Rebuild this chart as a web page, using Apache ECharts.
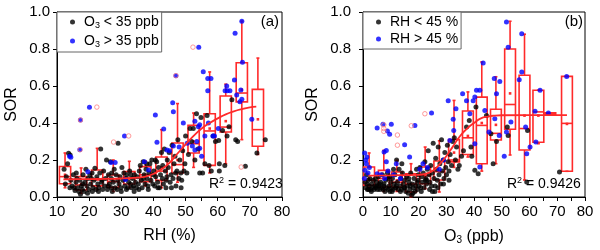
<!DOCTYPE html>
<html><head><meta charset="utf-8">
<script src="https://cdn.jsdelivr.net/npm/echarts@6/dist/echarts.min.js"></script>
<style>html,body{margin:0;padding:0;background:#fff}#c{width:600px;height:250px}</style>
</head><body><div id="c"></div>
<script>
// ---------- Panel (a): SOR vs RH ----------
const blackA = [[12.2,0.15],[12.6,0.07],[12.9,0.11],[13.3,0.18],[13.6,0.236],[14.1,0.227],[14.3,0.09],[14.7,0.06],[15.1,0.12],[15.3,0.05],[15.6,0.035],[15.9,0.08],[16.2,0.1],[16.5,0.05],[16.8,0.03],[17.1,0.09],[17.3,0.015],[17.6,0.06],[17.9,0.04],[18.1,0.12],[18.4,0.03],[18.7,0.08],[19.0,0.15],[19.3,0.06],[19.6,0.1],[19.9,0.04],[20.2,0.12],[20.5,0.07],[20.9,0.13],[21.2,0.05],[21.5,0.09],[21.8,0.155],[22.1,0.04],[22.4,0.11],[22.7,0.07],[23.0,0.05],[23.3,0.13],[23.6,0.26],[23.9,0.08],[24.2,0.04],[24.5,0.14],[24.8,0.06],[25.1,0.1],[25.4,0.2],[25.7,0.04],[26.0,0.12],[26.3,0.07],[26.6,0.19],[26.9,0.1],[27.2,0.03],[27.5,0.08],[27.8,0.15],[28.1,0.05],[28.4,0.12],[28.7,0.04],[29.0,0.29],[29.3,0.07],[29.6,0.11],[29.9,0.05],[30.2,0.16],[30.5,0.09],[30.8,0.13],[31.1,0.06],[31.4,0.1],[31.7,0.12],[32.0,0.05],[32.3,0.08],[32.6,0.14],[32.9,0.07],[33.2,0.05],[33.5,0.1],[33.8,0.06],[34.1,0.12],[34.4,0.08],[34.7,0.05],[35.0,0.11],[35.3,0.07],[35.6,0.14],[35.9,0.17],[36.2,0.09],[36.5,0.05],[36.8,0.19],[37.1,0.12],[37.4,0.07],[37.7,0.15],[38.0,0.1],[38.3,0.06],[38.6,0.13],[38.9,0.18],[39.2,0.09],[39.5,0.2],[39.8,0.07],[40.1,0.14],[40.4,0.06],[40.7,0.11],[41.0,0.19],[41.3,0.08],[41.6,0.16],[41.9,0.05],[42.2,0.12],[42.5,0.24],[42.8,0.1],[43.1,0.07],[43.4,0.26],[43.7,0.14],[44.0,0.09],[44.3,0.2],[44.6,0.16],[44.9,0.24],[45.2,0.08],[45.5,0.12],[45.8,0.28],[46.1,0.1],[46.4,0.18],[46.7,0.22],[47.0,0.06],[47.3,0.14],[47.6,0.31],[47.9,0.1],[48.2,0.2],[48.5,0.13],[48.8,0.09],[49.1,0.25],[49.5,0.14],[50.0,0.33],[50.4,0.13],[50.9,0.23],[51.4,0.37],[51.9,0.3],[52.4,0.37],[52.9,0.2],[53.4,0.45],[53.9,0.26],[54.4,0.13],[54.8,0.43],[55.3,0.13],[56.0,0.18],[56.7,0.44],[57.3,0.17],[58.0,0.14],[58.6,0.33],[59.3,0.3],[60.3,0.306],[60.5,0.18],[60.5,0.14],[61.5,0.36],[62.2,0.17],[62.9,0.33],[63.5,0.38],[64.4,0.526],[65.6,0.31],[66.2,0.3],[68.6,0.166],[72.2,0.238],[74.8,0.31],
[14.0,0.05],[16.0,0.13],[18.0,0.07],[19.5,0.02],[20.7,0.1],[22.9,0.03],[24.0,0.09],[25.9,0.06],[27.0,0.13],[28.9,0.09],[30.0,0.03],[31.6,0.04],[33.0,0.12],[34.0,0.03],[35.5,0.04],[36.9,0.1],[38.4,0.04],[39.9,0.12],[41.4,0.05],[42.9,0.17],[44.2,0.11],[45.6,0.05],[46.9,0.13],[48.6,0.05],[49.8,0.18],[37.9,0.18],[40.6,0.2],[43.9,0.05],[26.9,0.05],[21.0,0.03]];
const blueA = [[13.9,0.22],[14.3,0.215],[17.1,0.256],[17.3,0.416],[20.1,0.485],[19.6,0.137],[26.8,0.187],[28.1,0.187],[31.0,0.33],[31.3,0.095],[37.2,0.19],[38.5,0.146],[40.6,0.443],[41.1,0.296],[43.2,0.367],[44.2,0.254],[45.0,0.25],[46.0,0.51],[46.2,0.461],[46.2,0.276],[47.0,0.656],[49.3,0.4],[50.5,0.29],[52.1,0.276],[52.9,0.41],[52.9,0.254],[53.5,0.3],[54.0,0.38],[54.1,0.81],[54.4,0.39],[54.4,0.263],[55.5,0.677],[56.9,0.64],[56.9,0.575],[57.1,0.4],[57.9,0.64],[58.5,0.33],[62.3,0.575],[62.8,0.6],[63.0,0.575],[63.8,0.575],[65.2,0.632],[65.4,0.885],[65.9,0.551],[66.9,0.515],[67.2,0.578],[67.5,0.528],[67.5,0.95],[67.7,0.728],[70.6,0.42],[60.2,0.37],[59.0,0.33],[48.0,0.27],[55.0,0.22],[56.0,0.33]];
const outA = [[17.2,0.256],[17.3,0.416],[22.4,0.486],[27.6,0.297],[32.3,0.33],[47.0,0.656],[52.3,0.81],[67.3,0.162]];
const boxA_x    = [12.5,17.5,22.5,27.5,32.5,37.5,42.5,47.5,52.5,57.5,62.5,67.5,72.5];
const boxA_low  = [0.05,0.02,0.04,0.03,0.05,0.06,0.05,0.08,0.16,0.13,0.18,0.31,0.23];
const boxA_q1   = [0.072,0.038,0.06,0.052,0.07,0.083,0.09,0.13,0.238,0.171,0.351,0.514,0.274];
const boxA_med  = [0.11,0.065,0.092,0.083,0.1,0.12,0.14,0.175,0.288,0.357,0.378,0.562,0.364];
const boxA_q3   = [0.165,0.11,0.146,0.119,0.137,0.164,0.216,0.292,0.387,0.45,0.546,0.726,0.582];
const boxA_high = [0.238,0.157,0.263,0.2,0.193,0.195,0.364,0.505,0.454,0.676,0.61,0.951,0.751];
const boxA_mean = [0.12,0.07,0.1,0.09,0.1,0.12,0.16,0.2,0.3,0.37,0.41,0.58,0.42];
const fitA_x = [12,15,20,25,30,35,37.5,40,42.5,45,47.5,50,52.5,55,57.5,60,62.5,65,67.5,70,72];
const fitA_y = [0.095,0.096,0.097,0.098,0.1,0.105,0.11,0.125,0.15,0.185,0.235,0.285,0.33,0.37,0.4,0.425,0.447,0.463,0.475,0.484,0.488];

// ---------- Panel (b): SOR vs O3 ----------
const blackB = [[0.8,0.08],[1.0,0.05],[1.3,0.12],[1.6,0.04],[1.9,0.09],[2.2,0.06],[2.5,0.1],[2.8,0.04],[3.1,0.07],[3.4,0.05],[3.7,0.09],[4.0,0.04],[4.3,0.06],[4.6,0.05],[4.9,0.08],[5.2,0.04],[5.5,0.11],[5.8,0.06],[6.1,0.04],[6.4,0.08],[6.7,0.05],[7.0,0.12],[7.3,0.04],[7.6,0.07],[7.9,0.03],[8.2,0.09],[8.5,0.05],[8.8,0.13],[9.1,0.04],[9.4,0.06],[9.7,0.03],[10.0,0.08],[10.3,0.05],[10.6,0.1],[10.9,0.04],[11.2,0.07],[11.5,0.12],[11.8,0.05],[12.1,0.2],[12.4,0.08],[12.7,0.04],[13.0,0.15],[13.3,0.06],[13.6,0.1],[13.9,0.04],[14.2,0.13],[14.5,0.07],[14.8,0.05],[15.1,0.09],[15.4,0.03],[15.7,0.11],[16.0,0.06],[16.3,0.02],[16.6,0.08],[16.9,0.04],[17.2,0.13],[17.5,0.01],[17.8,0.07],[18.1,0.05],[18.4,0.1],[18.7,0.03],[19.0,0.06],[19.3,0.15],[19.6,0.04],[19.9,0.09],[20.2,0.06],[20.5,0.16],[20.8,0.05],[21.1,0.11],[21.4,0.08],[21.7,0.13],[22.0,0.05],[22.3,0.19],[22.6,0.1],[22.9,0.07],[23.2,0.15],[23.5,0.25],[23.8,0.12],[24.1,0.08],[24.4,0.17],[24.7,0.06],[25.0,0.13],[25.3,0.29],[25.6,0.1],[25.9,0.03],[26.2,0.21],[26.5,0.15],[26.8,0.09],[27.1,0.27],[27.4,0.12],[27.7,0.18],[28.0,0.07],[28.3,0.31],[28.6,0.14],[28.9,0.2],[29.2,0.1],[29.5,0.24],[29.8,0.16],[30.1,0.12],[30.4,0.28],[30.7,0.19],[31.0,0.14],[31.4,0.23],[31.9,0.17],[32.3,0.3],[32.9,0.32],[33.3,0.2],[33.7,0.27],[34.2,0.15],[34.7,0.17],[35.5,0.22],[36.2,0.25],[37.3,0.378],[38.3,0.414],[38.9,0.27],[39.2,0.22],[40.3,0.144],[40.7,0.486],[41.5,0.126],[44.5,0.44],[46.1,0.342],[46.9,0.18],[48.1,0.3],[52.0,0.378],[52.3,0.333],[59.0,0.081],[59.3,0.36],[70.8,0.135],
[1.5,0.07],[3.0,0.03],[4.5,0.1],[6.0,0.07],[7.5,0.06],[9.0,0.1],[10.5,0.03],[12.0,0.06],[13.5,0.03],[15.0,0.05],[16.5,0.1],[18.0,0.02],[19.5,0.08],[21.0,0.03],[22.5,0.09],[24.0,0.04],[26.0,0.06],[27.0,0.05],[29.0,0.07],[31.0,0.09],[14.0,0.18],[11.0,0.15],[9.5,0.11],[5.0,0.06],[2.0,0.04],[17.0,0.06],[20.0,0.12],[23.0,0.09],[25.0,0.03]];
const blueB = [[0.6,0.238],[1.4,0.216],[1.2,0.18],[0.7,0.144],[1.8,0.13],[2.3,0.16],[0.5,0.1],[1.0,0.2],[5.1,0.373],[7.2,0.393],[8.8,0.357],[9.6,0.339],[10.2,0.393],[7.6,0.243],[8.4,0.252],[8.4,0.19],[5.1,0.126],[6.5,0.12],[7.8,0.1],[9.0,0.14],[11.0,0.12],[12.0,0.18],[13.5,0.1],[15.0,0.283],[16.8,0.216],[18.7,0.387],[20.5,0.15],[21.6,0.18],[23.2,0.16],[24.7,0.454],[27.5,0.15],[29.0,0.2],[30.7,0.52],[31.3,0.306],[32.5,0.42],[32.7,0.36],[33.5,0.477],[35.9,0.558],[37.3,0.52],[38.5,0.45],[39.7,0.52],[40.3,0.54],[40.3,0.288],[40.9,0.577],[42.1,0.577],[42.1,0.162],[43.3,0.724],[43.9,0.468],[45.4,0.351],[47.3,0.64],[47.5,0.423],[48.1,0.558],[49.1,0.333],[49.3,0.625],[50.9,0.22],[51.7,0.946],[51.7,0.351],[52.3,0.81],[53.3,0.405],[56.3,0.634],[57.2,0.676],[57.2,0.883],[58.6,0.378],[59.0,0.234],[60.2,0.27],[62.0,0.463],[62.3,0.297],[63.8,0.577],[66.8,0.454],[73.4,0.652]];
const outB = [[7.5,0.39],[7.5,0.37],[7.5,0.355],[12.4,0.335],[12.4,0.28],[17.4,0.385],[22.3,0.45]];
const boxB_x    = [2.2,7.5,12.2,17.3,22.4,27.5,32.8,37.8,42.8,47.9,53.0,58.2,63.2,67.5,73.5];
const boxB_low  = [0.036,0.03,0.03,0.0,0.045,0.027,0.16,0.216,0.14,0.18,0.227,0.092,0.288,0.445,0.139];
const boxB_q1   = [0.063,0.054,0.054,0.027,0.072,0.092,0.19,0.23,0.18,0.308,0.366,0.254,0.296,0.447,0.139];
const boxB_med  = [0.09,0.1,0.08,0.07,0.117,0.137,0.2,0.32,0.387,0.344,0.5,0.37,0.46,0.45,0.398];
const boxB_q3   = [0.162,0.144,0.135,0.126,0.162,0.195,0.31,0.465,0.54,0.474,0.8,0.658,0.577,0.455,0.652];
const boxB_high = [0.238,0.252,0.198,0.18,0.27,0.304,0.522,0.568,0.73,0.65,0.95,0.88,0.577,0.455,0.652];
const boxB_mean = [0.1,0.1,0.09,0.07,0.11,0.14,0.24,0.33,0.4,0.39,0.56,0.44,0.44,0.45,0.395];
const fitB_x = [2,10,20,22.5,25,27.5,30,32.5,35,37.5,40,42.5,45,47.5,50,60,73.5];
const fitB_y = [0.115,0.117,0.12,0.125,0.14,0.175,0.22,0.275,0.33,0.37,0.4,0.425,0.435,0.44,0.442,0.443,0.443];

// ---------- rendering ----------
const FONT = '"Liberation Sans", Arial, sans-serif';
const RED = '#ff2a2a';
const zip = (xs, ys) => xs.map((x, i) => [x, ys[i]]);
const boxRows = (x, lo, q1, md, q3, hi, mn) => x.map((v, i) => [v, lo[i], q1[i], md[i], q3[i], hi[i], mn[i]]);

function boxRenderer(boxW) {
  return function (params, api) {
    const x = api.value(0);
    const pLo = api.coord([x, api.value(1)]);
    const pQ1 = api.coord([x, api.value(2)]);
    const pMd = api.coord([x, api.value(3)]);
    const pQ3 = api.coord([x, api.value(4)]);
    const pHi = api.coord([x, api.value(5)]);
    const pMn = api.coord([x, api.value(6)]);
    const w = api.size([boxW, 0])[0];
    const cx = pQ1[0];
    const st = { stroke: RED, fill: 'none', lineWidth: 1.6 };
    return {
      type: 'group',
      children: [
        { type: 'line', shape: { x1: cx, y1: pHi[1], x2: cx, y2: pQ3[1] }, style: st },
        { type: 'line', shape: { x1: cx, y1: pQ1[1], x2: cx, y2: pLo[1] }, style: st },
        { type: 'line', shape: { x1: cx - 1.5, y1: pHi[1], x2: cx + 1.5, y2: pHi[1] }, style: st },
        { type: 'line', shape: { x1: cx - 1.5, y1: pLo[1], x2: cx + 1.5, y2: pLo[1] }, style: st },
        { type: 'rect', shape: { x: cx - w / 2, y: pQ3[1], width: w, height: Math.max(pQ1[1] - pQ3[1], 1) }, style: st },
        { type: 'line', shape: { x1: cx - w / 2, y1: pMd[1], x2: cx + w / 2, y2: pMd[1] }, style: st },
        { type: 'rect', shape: { x: cx - 1.3, y: pMn[1] - 1.3, width: 2.6, height: 2.6 }, style: { fill: RED, stroke: null } }
      ]
    };
  };
}

const mainTxt = { fontSize: 15, fontFamily: FONT, color: '#000' };
function xAxisCfg(gi, min, name, rich) {
  return {
    gridIndex: gi, type: 'value', min: min, max: 80, interval: 10,
    name: name, nameLocation: 'middle', nameGap: 31,
    nameTextStyle: { fontSize: 16, fontFamily: FONT, color: '#000', rich: rich },
    axisLine: { onZero: false, lineStyle: { color: '#000', width: 1 } },
    axisTick: { length: 4, lineStyle: { color: '#000' } },
    minorTick: { show: true, splitNumber: 2, length: 4, lineStyle: { color: '#000' } },
    splitLine: { show: false },
    axisLabel: Object.assign({ margin: 7 }, mainTxt)
  };
}
function yAxisCfg(gi, gap, margin) {
  return {
    gridIndex: gi, type: 'value', min: 0, max: 1, interval: 0.2,
    name: 'SOR', nameLocation: 'middle', nameGap: gap,
    nameTextStyle: { fontSize: 16, fontFamily: FONT, color: '#000' },
    axisLine: { show: true, onZero: false, lineStyle: { color: '#000', width: 1 } },
    axisTick: { show: true, length: 4, lineStyle: { color: '#000' } },
    splitLine: { show: false },
    axisLabel: Object.assign({ margin: margin, formatter: v => v.toFixed(1) }, mainTxt)
  };
}
const subRich = {
  n: { fontSize: 16, fontFamily: FONT, color: '#000' },
  s: { fontSize: 10, fontFamily: FONT, color: '#000', padding: [7, 0, 0, 0] }
};
const legRich = {
  p: { width: 4 },
  n: { fontSize: 14, fontFamily: FONT, color: '#000' },
  s: { fontSize: 9, fontFamily: FONT, color: '#000', padding: [7, 0, 0, 0] }
};
const legendFmt = name => {
  if (name.indexOf('O3') === 0) return '{p|}{n|O}{s|3}{n|' + name.slice(2) + '}';
  return '{p|}{n|' + name + '}';
};
function legendCfg(names, left, gap) {
  return {
    data: names, left: left, top: 12, orient: 'vertical', icon: 'circle',
    itemWidth: 5, itemHeight: 5, itemGap: gap, padding: [3, 3, 3, 13],
    borderColor: '#666', borderWidth: 1, backgroundColor: '#fff',
    formatter: legendFmt, textStyle: { rich: legRich, fontSize: 14, fontFamily: FONT, color: '#000' }
  };
}
function scatter(name, data, color, gi) {
  return { type: 'scatter', name: name, data: data, xAxisIndex: gi, yAxisIndex: gi, symbolSize: 5, itemStyle: { color: color }, silent: true };
}
function outliers(data, gi) {
  return { type: 'scatter', xAxisIndex: gi, yAxisIndex: gi, data: data, symbol: 'circle', symbolSize: 4.5, itemStyle: { color: 'rgba(255,255,255,0)', borderColor: '#ff8080', borderWidth: 1 }, silent: true };
}

const chart = echarts.init(document.getElementById('c'), null, { renderer: 'canvas' });
chart.setOption({
  animation: false,
  grid: [
    { left: 57, top: 12, width: 225, height: 185, show: true, borderColor: '#000', borderWidth: 1, backgroundColor: 'transparent' },
    { left: 363, top: 12, width: 222, height: 185, show: true, borderColor: '#000', borderWidth: 1, backgroundColor: 'transparent' }
  ],
  xAxis: [xAxisCfg(0, 10, 'RH (%)', null), xAxisCfg(1, 0, '{n|O}{s|3}{n| (ppb)}', subRich)],
  yAxis: [yAxisCfg(0, 37, 7), yAxisCfg(1, 42, 12)],
  legend: [legendCfg(['O3 < 35 ppb', 'O3 > 35 ppb'], 57, 4), legendCfg(['RH < 45 %', 'RH > 45 %'], 363, 3)],
  graphic: [
    { type: 'text', right: 600 - 279, top: 14, style: { text: '(a)', font: '15px ' + FONT, fill: '#000' } },
    { type: 'text', right: 600 - 583, top: 14, style: { text: '(b)', font: '15px ' + FONT, fill: '#000' } },
    { type: 'text', left: 209, top: 176, style: { text: '{n|R}{u|2}{n| = 0.9423}', rich: { n: { fontSize: 14, fontFamily: FONT, fill: '#000' }, u: { fontSize: 9, fontFamily: FONT, fill: '#000', padding: [0, 0, 8, 0] } } } },
    { type: 'text', left: 507, top: 176, style: { text: '{n|R}{u|2}{n| = 0.9426}', rich: { n: { fontSize: 14, fontFamily: FONT, fill: '#000' }, u: { fontSize: 9, fontFamily: FONT, fill: '#000', padding: [0, 0, 8, 0] } } } }
  ],
  series: [
    scatter('O3 < 35 ppb', blackA, '#000000', 0),
    scatter('O3 > 35 ppb', blueA, '#0000ff', 0),
    { type: 'custom', xAxisIndex: 0, yAxisIndex: 0, renderItem: boxRenderer(3.5), data: boxRows(boxA_x, boxA_low, boxA_q1, boxA_med, boxA_q3, boxA_high, boxA_mean), encode: { x: 0, y: [1, 2, 3, 4, 5] }, silent: true },
    outliers(outA, 0),
    { type: 'line', xAxisIndex: 0, yAxisIndex: 0, data: zip(fitA_x, fitA_y), smooth: true, showSymbol: false, lineStyle: { color: RED, width: 1.8 }, silent: true },
    scatter('RH < 45 %', blackB, '#000000', 1),
    scatter('RH > 45 %', blueB, '#0000ff', 1),
    { type: 'custom', xAxisIndex: 1, yAxisIndex: 1, renderItem: boxRenderer(3.9), data: boxRows(boxB_x, boxB_low, boxB_q1, boxB_med, boxB_q3, boxB_high, boxB_mean), encode: { x: 0, y: [1, 2, 3, 4, 5] }, silent: true },
    outliers(outB, 1),
    { type: 'line', xAxisIndex: 1, yAxisIndex: 1, data: zip(fitB_x, fitB_y), smooth: true, showSymbol: false, lineStyle: { color: RED, width: 1.8 }, silent: true }
  ]
});
</script>
</body></html>
